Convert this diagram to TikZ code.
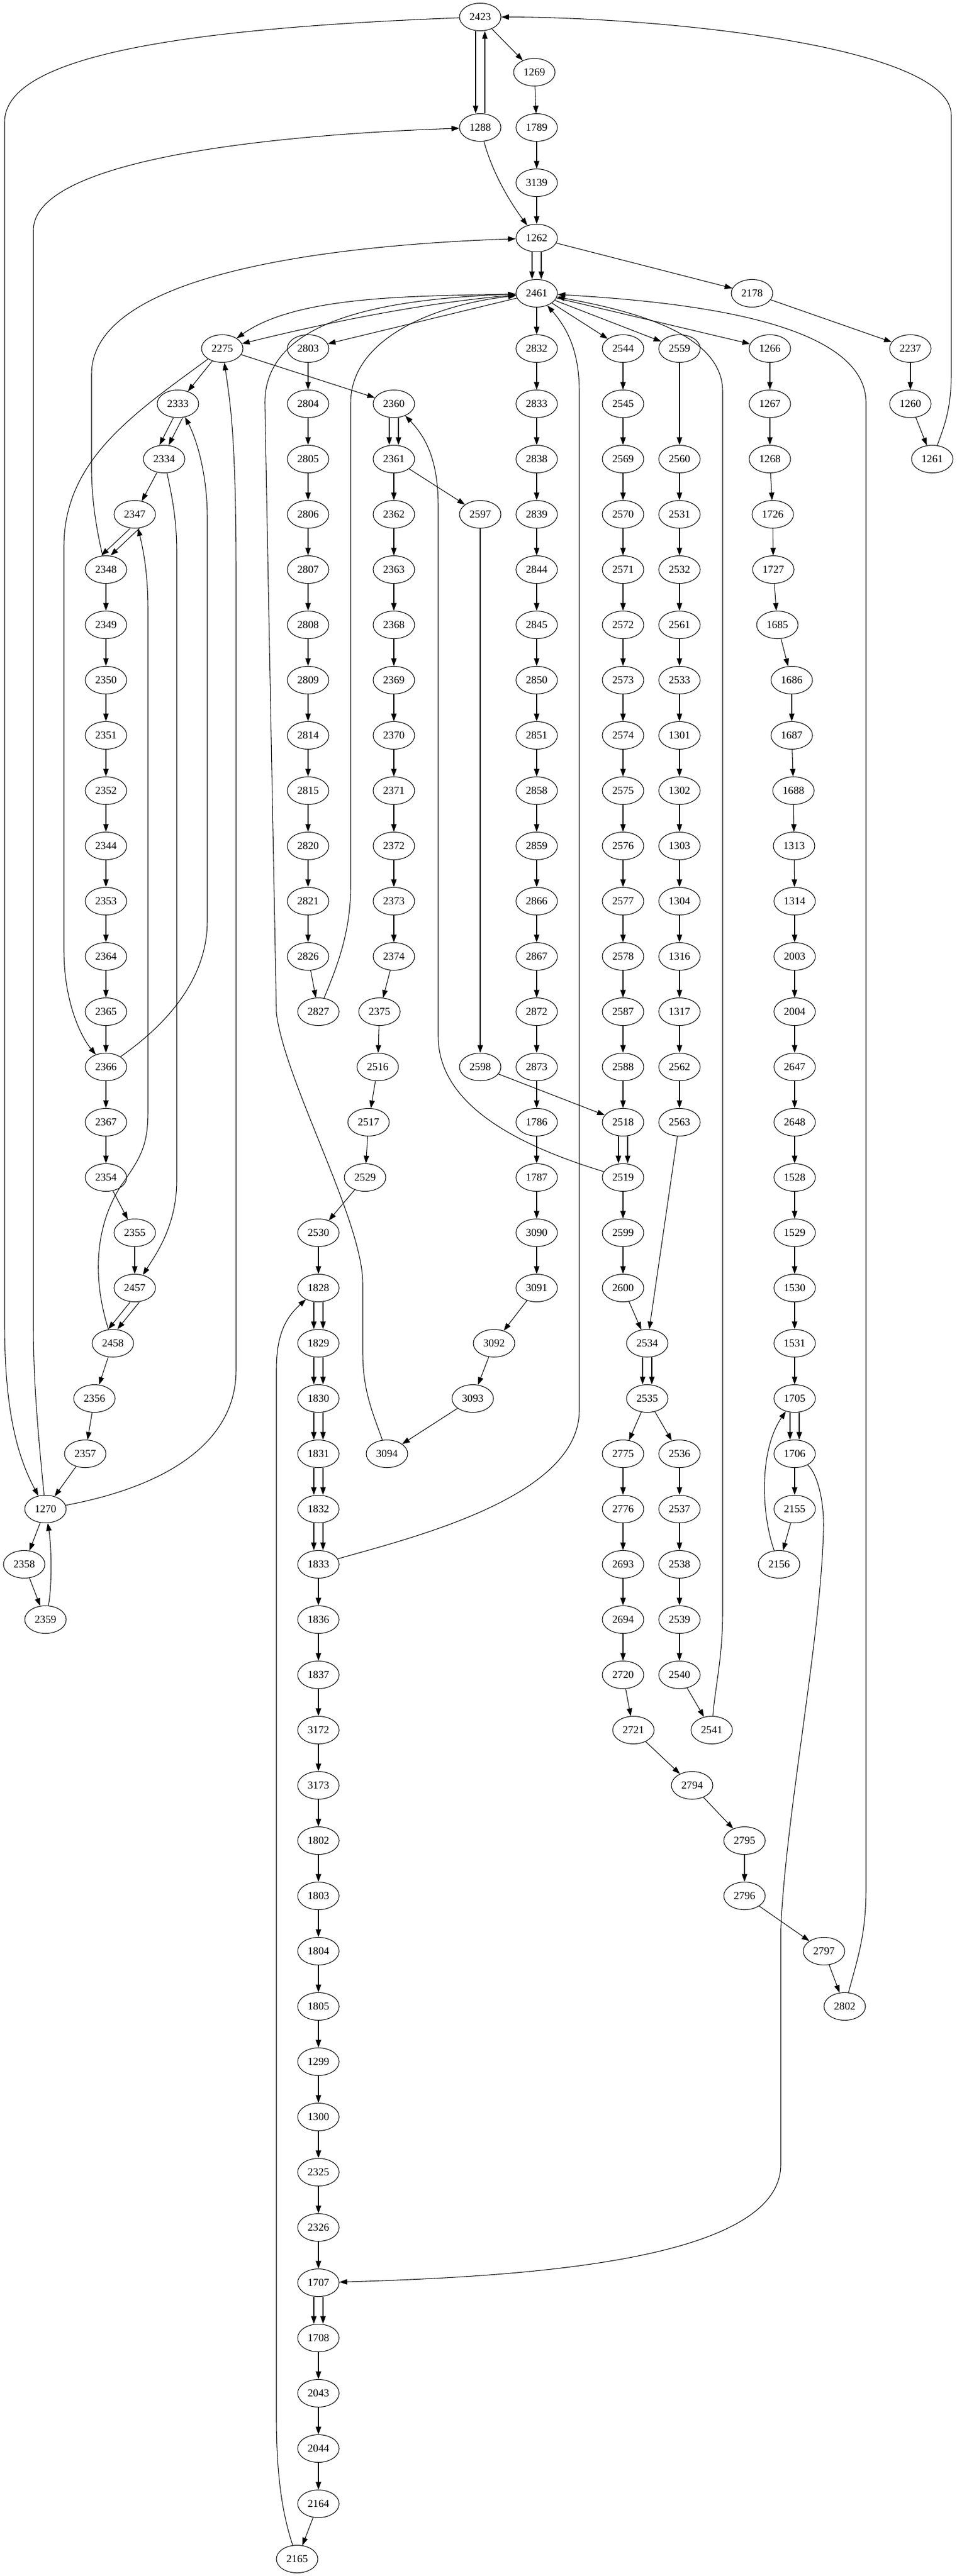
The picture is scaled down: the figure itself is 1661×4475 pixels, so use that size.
\documentclass[tikz,border=0pt]{standalone}
\usepackage{fontspec}
\setmainfont{Liberation Serif}
\usepackage{tikz}
\usetikzlibrary{arrows.meta,shapes.geometric}
\tikzstyle{mynode} = [draw=black, ellipse, line width=0.8pt,
    minimum width=54pt, minimum height=36pt, inner sep=0pt, font=\fontsize{14}{16}\selectfont]
\tikzstyle{myedge} = [draw=black, line width=0.8pt, -{Triangle[length=10pt,width=7pt]}]

\begin{document}
\begin{tikzpicture}[x=0.75pt, y=-0.75pt]
\useasboundingbox (0,0) rectangle (1661,4475);
\node[mynode] (n2423) at (834,29.5) {2423};
\node[mynode] (n1269) at (928,125.5) {1269};
\node[mynode] (n1288) at (834,221.5) {1288};
\node[mynode] (n1789) at (932,221.5) {1789};
\node[mynode] (n3139) at (932,317.5) {3139};
\node[mynode] (n1262) at (932,413.5) {1262};
\node[mynode] (n2461) at (932,509.5) {2461};
\node[mynode] (n2178) at (1306,509.5) {2178};
\node[mynode] (n2275) at (386,605.5) {2275};
\node[mynode] (n2803) at (535,605.5) {2803};
\node[mynode] (n2832) at (932,605.5) {2832};
\node[mynode] (n2544) at (1082,605.5) {2544};
\node[mynode] (n2559) at (1180,605.5) {2559};
\node[mynode] (n1266) at (1337,605.5) {1266};
\node[mynode] (n2237) at (1581,605.5) {2237};
\node[mynode] (n2333) at (309,701.5) {2333};
\node[mynode] (n2804) at (535,701.5) {2804};
\node[mynode] (n2360) at (684,701.5) {2360};
\node[mynode] (n2833) at (932,701.5) {2833};
\node[mynode] (n2545) at (1082,701.5) {2545};
\node[mynode] (n1267) at (1337,701.5) {1267};
\node[mynode] (n1260) at (1581,701.5) {1260};
\node[mynode] (n2334) at (285,797.5) {2334};
\node[mynode] (n2805) at (535,797.5) {2805};
\node[mynode] (n2361) at (684,797.5) {2361};
\node[mynode] (n2838) at (932,797.5) {2838};
\node[mynode] (n2569) at (1082,797.5) {2569};
\node[mynode] (n2560) at (1180,797.5) {2560};
\node[mynode] (n1268) at (1337,797.5) {1268};
\node[mynode] (n1261) at (1619,797.5) {1261};
\node[mynode] (n2347) at (234,893.5) {2347};
\node[mynode] (n2806) at (535,893.5) {2806};
\node[mynode] (n2362) at (684,893.5) {2362};
\node[mynode] (n2597) at (834,893.5) {2597};
\node[mynode] (n2839) at (932,893.5) {2839};
\node[mynode] (n2570) at (1082,893.5) {2570};
\node[mynode] (n2531) at (1180,893.5) {2531};
\node[mynode] (n1726) at (1342,893.5) {1726};
\node[mynode] (n2348) at (184,989.5) {2348};
\node[mynode] (n2807) at (535,989.5) {2807};
\node[mynode] (n2363) at (684,989.5) {2363};
\node[mynode] (n2844) at (932,989.5) {2844};
\node[mynode] (n2571) at (1082,989.5) {2571};
\node[mynode] (n2532) at (1180,989.5) {2532};
\node[mynode] (n1727) at (1343,989.5) {1727};
\node[mynode] (n2349) at (184,1085.5) {2349};
\node[mynode] (n2808) at (535,1085.5) {2808};
\node[mynode] (n2368) at (684,1085.5) {2368};
\node[mynode] (n2845) at (932,1085.5) {2845};
\node[mynode] (n2572) at (1082,1085.5) {2572};
\node[mynode] (n2561) at (1180,1085.5) {2561};
\node[mynode] (n1685) at (1350,1085.5) {1685};
\node[mynode] (n2350) at (184,1181.5) {2350};
\node[mynode] (n2809) at (535,1181.5) {2809};
\node[mynode] (n2369) at (684,1181.5) {2369};
\node[mynode] (n2850) at (932,1181.5) {2850};
\node[mynode] (n2573) at (1082,1181.5) {2573};
\node[mynode] (n2533) at (1180,1181.5) {2533};
\node[mynode] (n1686) at (1375,1181.5) {1686};
\node[mynode] (n2351) at (184,1277.5) {2351};
\node[mynode] (n2814) at (535,1277.5) {2814};
\node[mynode] (n2370) at (684,1277.5) {2370};
\node[mynode] (n2851) at (932,1277.5) {2851};
\node[mynode] (n2574) at (1082,1277.5) {2574};
\node[mynode] (n1301) at (1180,1277.5) {1301};
\node[mynode] (n1687) at (1375,1277.5) {1687};
\node[mynode] (n2352) at (184,1373.5) {2352};
\node[mynode] (n2815) at (535,1373.5) {2815};
\node[mynode] (n2371) at (684,1373.5) {2371};
\node[mynode] (n2858) at (932,1373.5) {2858};
\node[mynode] (n2575) at (1082,1373.5) {2575};
\node[mynode] (n1302) at (1180,1373.5) {1302};
\node[mynode] (n1688) at (1378,1373.5) {1688};
\node[mynode] (n2344) at (184,1469.5) {2344};
\node[mynode] (n2820) at (535,1469.5) {2820};
\node[mynode] (n2372) at (684,1469.5) {2372};
\node[mynode] (n2859) at (932,1469.5) {2859};
\node[mynode] (n2576) at (1082,1469.5) {2576};
\node[mynode] (n1303) at (1180,1469.5) {1303};
\node[mynode] (n1313) at (1379,1469.5) {1313};
\node[mynode] (n2353) at (184,1565.5) {2353};
\node[mynode] (n2821) at (535,1565.5) {2821};
\node[mynode] (n2373) at (684,1565.5) {2373};
\node[mynode] (n2866) at (932,1565.5) {2866};
\node[mynode] (n2577) at (1082,1565.5) {2577};
\node[mynode] (n1304) at (1180,1565.5) {1304};
\node[mynode] (n1314) at (1380,1565.5) {1314};
\node[mynode] (n2364) at (184,1661.5) {2364};
\node[mynode] (n2826) at (535,1661.5) {2826};
\node[mynode] (n2374) at (684,1661.5) {2374};
\node[mynode] (n2867) at (932,1661.5) {2867};
\node[mynode] (n2578) at (1082,1661.5) {2578};
\node[mynode] (n1316) at (1180,1661.5) {1316};
\node[mynode] (n2003) at (1380,1661.5) {2003};
\node[mynode] (n2365) at (184,1757.5) {2365};
\node[mynode] (n2827) at (553,1757.5) {2827};
\node[mynode] (n2375) at (659,1757.5) {2375};
\node[mynode] (n2872) at (932,1757.5) {2872};
\node[mynode] (n2587) at (1082,1757.5) {2587};
\node[mynode] (n1317) at (1180,1757.5) {1317};
\node[mynode] (n2004) at (1380,1757.5) {2004};
\node[mynode] (n2366) at (184,1853.5) {2366};
\node[mynode] (n2516) at (656,1853.5) {2516};
\node[mynode] (n2598) at (834,1853.5) {2598};
\node[mynode] (n2873) at (932,1853.5) {2873};
\node[mynode] (n2588) at (1082,1853.5) {2588};
\node[mynode] (n2562) at (1180,1853.5) {2562};
\node[mynode] (n2647) at (1380,1853.5) {2647};
\node[mynode] (n2367) at (184,1949.5) {2367};
\node[mynode] (n2517) at (640,1949.5) {2517};
\node[mynode] (n1786) at (932,1949.5) {1786};
\node[mynode] (n2518) at (1082,1949.5) {2518};
\node[mynode] (n2563) at (1180,1949.5) {2563};
\node[mynode] (n2648) at (1380,1949.5) {2648};
\node[mynode] (n2354) at (184,2045.5) {2354};
\node[mynode] (n2529) at (634,2045.5) {2529};
\node[mynode] (n1787) at (932,2045.5) {1787};
\node[mynode] (n2519) at (1082,2045.5) {2519};
\node[mynode] (n1528) at (1380,2045.5) {1528};
\node[mynode] (n2355) at (234,2141.5) {2355};
\node[mynode] (n2530) at (553,2141.5) {2530};
\node[mynode] (n3090) at (932,2141.5) {3090};
\node[mynode] (n2599) at (1082,2141.5) {2599};
\node[mynode] (n1529) at (1380,2141.5) {1529};
\node[mynode] (n2457) at (234,2237.5) {2457};
\node[mynode] (n1828) at (553,2237.5) {1828};
\node[mynode] (n3091) at (932,2237.5) {3091};
\node[mynode] (n2600) at (1082,2237.5) {2600};
\node[mynode] (n1530) at (1380,2237.5) {1530};
\node[mynode] (n2458) at (196,2333.5) {2458};
\node[mynode] (n1829) at (553,2333.5) {1829};
\node[mynode] (n3092) at (858,2333.5) {3092};
\node[mynode] (n2534) at (1124,2333.5) {2534};
\node[mynode] (n1531) at (1380,2333.5) {1531};
\node[mynode] (n2356) at (164,2429.5) {2356};
\node[mynode] (n1830) at (553,2429.5) {1830};
\node[mynode] (n3093) at (821,2429.5) {3093};
\node[mynode] (n2535) at (1124,2429.5) {2535};
\node[mynode] (n1705) at (1380,2429.5) {1705};
\node[mynode] (n2357) at (148,2525.5) {2357};
\node[mynode] (n1831) at (553,2525.5) {1831};
\node[mynode] (n3094) at (672,2525.5) {3094};
\node[mynode] (n2775) at (1082,2525.5) {2775};
\node[mynode] (n2536) at (1180,2525.5) {2536};
\node[mynode] (n1706) at (1380,2525.5) {1706};
\node[mynode] (n1270) at (79,2621.5) {1270};
\node[mynode] (n1832) at (553,2621.5) {1832};
\node[mynode] (n2776) at (1082,2621.5) {2776};
\node[mynode] (n2537) at (1180,2621.5) {2537};
\node[mynode] (n2155) at (1380,2621.5) {2155};
\node[mynode] (n2358) at (42,2717.5) {2358};
\node[mynode] (n1833) at (553,2717.5) {1833};
\node[mynode] (n2693) at (1082,2717.5) {2693};
\node[mynode] (n2538) at (1180,2717.5) {2538};
\node[mynode] (n2156) at (1353,2717.5) {2156};
\node[mynode] (n2359) at (79,2813.5) {2359};
\node[mynode] (n1836) at (553,2813.5) {1836};
\node[mynode] (n2694) at (1082,2813.5) {2694};
\node[mynode] (n2539) at (1180,2813.5) {2539};
\node[mynode] (n1837) at (553,2909.5) {1837};
\node[mynode] (n2720) at (1082,2909.5) {2720};
\node[mynode] (n2540) at (1180,2909.5) {2540};
\node[mynode] (n3172) at (553,3005.5) {3172};
\node[mynode] (n2721) at (1100,3005.5) {2721};
\node[mynode] (n2541) at (1236,3005.5) {2541};
\node[mynode] (n3173) at (553,3101.5) {3173};
\node[mynode] (n2794) at (1202,3101.5) {2794};
\node[mynode] (n1802) at (553,3197.5) {1802};
\node[mynode] (n2795) at (1293,3197.5) {2795};
\node[mynode] (n1803) at (553,3293.5) {1803};
\node[mynode] (n2796) at (1293,3293.5) {2796};
\node[mynode] (n1804) at (553,3389.5) {1804};
\node[mynode] (n2797) at (1431,3389.5) {2797};
\node[mynode] (n1805) at (553,3485.5) {1805};
\node[mynode] (n2802) at (1467,3485.5) {2802};
\node[mynode] (n1299) at (553,3581.5) {1299};
\node[mynode] (n1300) at (553,3677.5) {1300};
\node[mynode] (n2325) at (553,3773.5) {2325};
\node[mynode] (n2326) at (553,3869.5) {2326};
\node[mynode] (n1707) at (553,3965.5) {1707};
\node[mynode] (n1708) at (553,4061.5) {1708};
\node[mynode] (n2043) at (553,4157.5) {2043};
\node[mynode] (n2044) at (553,4253.5) {2044};
\node[mynode] (n2164) at (553,4349.5) {2164};
\node[mynode] (n2165) at (516,4445.5) {2165};

\draw[myedge] (n2423) -- (n1269); \draw[myedge] (n1269) -- (n1789); \draw[myedge] (n1789) -- (n3139); \draw[myedge] (n3139) -- (n1262);
\draw[myedge] (n1262) -- (n2178); \draw[myedge] (n2178) -- (n2237); \draw[myedge] (n2237) -- (n1260); \draw[myedge] (n1260) -- (n1261);
\draw[myedge] (n2461) -- (n2803); \draw[myedge] (n2461) -- (n2832); \draw[myedge] (n2461) -- (n2544); \draw[myedge] (n2461) -- (n2559); \draw[myedge] (n2461) -- (n1266);
\draw[myedge] (n2275) -- (n2333); \draw[myedge] (n2275) -- (n2360);
\draw[myedge] (n2803) -- (n2804); \draw[myedge] (n2804) -- (n2805); \draw[myedge] (n2805) -- (n2806); \draw[myedge] (n2806) -- (n2807);
\draw[myedge] (n2807) -- (n2808); \draw[myedge] (n2808) -- (n2809); \draw[myedge] (n2809) -- (n2814); \draw[myedge] (n2814) -- (n2815);
\draw[myedge] (n2815) -- (n2820); \draw[myedge] (n2820) -- (n2821); \draw[myedge] (n2821) -- (n2826); \draw[myedge] (n2826) -- (n2827);
\draw[myedge] (n2832) -- (n2833); \draw[myedge] (n2833) -- (n2838); \draw[myedge] (n2838) -- (n2839); \draw[myedge] (n2839) -- (n2844);
\draw[myedge] (n2844) -- (n2845); \draw[myedge] (n2845) -- (n2850); \draw[myedge] (n2850) -- (n2851); \draw[myedge] (n2851) -- (n2858);
\draw[myedge] (n2858) -- (n2859); \draw[myedge] (n2859) -- (n2866); \draw[myedge] (n2866) -- (n2867); \draw[myedge] (n2867) -- (n2872);
\draw[myedge] (n2872) -- (n2873); \draw[myedge] (n2873) -- (n1786); \draw[myedge] (n1786) -- (n1787); \draw[myedge] (n1787) -- (n3090);
\draw[myedge] (n3090) -- (n3091); \draw[myedge] (n3091) -- (n3092); \draw[myedge] (n3092) -- (n3093); \draw[myedge] (n3093) -- (n3094);
\draw[myedge] (n2544) -- (n2545); \draw[myedge] (n2545) -- (n2569); \draw[myedge] (n2569) -- (n2570); \draw[myedge] (n2570) -- (n2571);
\draw[myedge] (n2571) -- (n2572); \draw[myedge] (n2572) -- (n2573); \draw[myedge] (n2573) -- (n2574); \draw[myedge] (n2574) -- (n2575);
\draw[myedge] (n2575) -- (n2576); \draw[myedge] (n2576) -- (n2577); \draw[myedge] (n2577) -- (n2578); \draw[myedge] (n2578) -- (n2587);
\draw[myedge] (n2587) -- (n2588); \draw[myedge] (n2588) -- (n2518);
\draw[myedge] (n2559) -- (n2560); \draw[myedge] (n2560) -- (n2531); \draw[myedge] (n2531) -- (n2532); \draw[myedge] (n2532) -- (n2561);
\draw[myedge] (n2561) -- (n2533); \draw[myedge] (n2533) -- (n1301); \draw[myedge] (n1301) -- (n1302); \draw[myedge] (n1302) -- (n1303);
\draw[myedge] (n1303) -- (n1304); \draw[myedge] (n1304) -- (n1316); \draw[myedge] (n1316) -- (n1317); \draw[myedge] (n1317) -- (n2562);
\draw[myedge] (n2562) -- (n2563); \draw[myedge] (n2563) -- (n2534);
\draw[myedge] (n1266) -- (n1267); \draw[myedge] (n1267) -- (n1268); \draw[myedge] (n1268) -- (n1726); \draw[myedge] (n1726) -- (n1727);
\draw[myedge] (n1727) -- (n1685); \draw[myedge] (n1685) -- (n1686); \draw[myedge] (n1686) -- (n1687); \draw[myedge] (n1687) -- (n1688);
\draw[myedge] (n1688) -- (n1313); \draw[myedge] (n1313) -- (n1314); \draw[myedge] (n1314) -- (n2003); \draw[myedge] (n2003) -- (n2004);
\draw[myedge] (n2004) -- (n2647); \draw[myedge] (n2647) -- (n2648); \draw[myedge] (n2648) -- (n1528); \draw[myedge] (n1528) -- (n1529);
\draw[myedge] (n1529) -- (n1530); \draw[myedge] (n1530) -- (n1531); \draw[myedge] (n1531) -- (n1705);
\draw[myedge] (n1706) -- (n2155); \draw[myedge] (n2155) -- (n2156);
\draw[myedge] (n2334) -- (n2347);
\draw[myedge] (n2348) -- (n2349); \draw[myedge] (n2349) -- (n2350); \draw[myedge] (n2350) -- (n2351); \draw[myedge] (n2351) -- (n2352);
\draw[myedge] (n2352) -- (n2344); \draw[myedge] (n2344) -- (n2353); \draw[myedge] (n2353) -- (n2364); \draw[myedge] (n2364) -- (n2365);
\draw[myedge] (n2365) -- (n2366); \draw[myedge] (n2366) -- (n2367); \draw[myedge] (n2367) -- (n2354); \draw[myedge] (n2354) -- (n2355);
\draw[myedge] (n2355) -- (n2457);
\draw[myedge] (n2458) -- (n2356); \draw[myedge] (n2356) -- (n2357); \draw[myedge] (n2357) -- (n1270); \draw[myedge] (n1270) -- (n2358);
\draw[myedge] (n2358) -- (n2359);
\draw[myedge] (n2361) -- (n2362); \draw[myedge] (n2362) -- (n2363); \draw[myedge] (n2363) -- (n2368); \draw[myedge] (n2368) -- (n2369);
\draw[myedge] (n2369) -- (n2370); \draw[myedge] (n2370) -- (n2371); \draw[myedge] (n2371) -- (n2372); \draw[myedge] (n2372) -- (n2373);
\draw[myedge] (n2373) -- (n2374); \draw[myedge] (n2374) -- (n2375); \draw[myedge] (n2375) -- (n2516); \draw[myedge] (n2516) -- (n2517);
\draw[myedge] (n2517) -- (n2529); \draw[myedge] (n2529) -- (n2530); \draw[myedge] (n2530) -- (n1828);
\draw[myedge] (n2361) -- (n2597); \draw[myedge] (n2597) -- (n2598); \draw[myedge] (n2598) -- (n2518);
\draw[myedge] (n1833) -- (n1836); \draw[myedge] (n1836) -- (n1837); \draw[myedge] (n1837) -- (n3172); \draw[myedge] (n3172) -- (n3173);
\draw[myedge] (n3173) -- (n1802); \draw[myedge] (n1802) -- (n1803); \draw[myedge] (n1803) -- (n1804); \draw[myedge] (n1804) -- (n1805);
\draw[myedge] (n1805) -- (n1299); \draw[myedge] (n1299) -- (n1300); \draw[myedge] (n1300) -- (n2325); \draw[myedge] (n2325) -- (n2326);
\draw[myedge] (n2326) -- (n1707);
\draw[myedge] (n1708) -- (n2043); \draw[myedge] (n2043) -- (n2044); \draw[myedge] (n2044) -- (n2164); \draw[myedge] (n2164) -- (n2165);
\draw[myedge] (n2519) -- (n2599); \draw[myedge] (n2599) -- (n2600); \draw[myedge] (n2600) -- (n2534);
\draw[myedge] (n2535) -- (n2775); \draw[myedge] (n2775) -- (n2776); \draw[myedge] (n2776) -- (n2693); \draw[myedge] (n2693) -- (n2694);
\draw[myedge] (n2694) -- (n2720); \draw[myedge] (n2720) -- (n2721); \draw[myedge] (n2721) -- (n2794); \draw[myedge] (n2794) -- (n2795);
\draw[myedge] (n2795) -- (n2796); \draw[myedge] (n2796) -- (n2797); \draw[myedge] (n2797) -- (n2802);
\draw[myedge] (n2535) -- (n2536); \draw[myedge] (n2536) -- (n2537); \draw[myedge] (n2537) -- (n2538); \draw[myedge] (n2538) -- (n2539);
\draw[myedge] (n2539) -- (n2540); \draw[myedge] (n2540) -- (n2541);

% paired edges
\draw[myedge] ([xshift=-6pt]n2423.south) -- ([xshift=-6pt]n1288.north);
\draw[myedge] ([xshift=6pt]n1288.north) -- ([xshift=6pt]n2423.south);
\draw[myedge] ([xshift=-6pt]n1262.south) -- ([xshift=-6pt]n2461.north);
\draw[myedge] ([xshift=6pt]n1262.south) -- ([xshift=6pt]n2461.north);
\draw[myedge] ([xshift=-6pt]n2333.south) -- ([xshift=-6pt]n2334.north);
\draw[myedge] ([xshift=6pt]n2333.south) -- ([xshift=6pt]n2334.north);
\draw[myedge] ([xshift=-6pt]n2347.south) -- ([xshift=-6pt]n2348.north);
\draw[myedge] ([xshift=6pt]n2347.south) -- ([xshift=6pt]n2348.north);
\draw[myedge] ([xshift=-6pt]n2457.south) -- ([xshift=-6pt]n2458.north);
\draw[myedge] ([xshift=6pt]n2457.south) -- ([xshift=6pt]n2458.north);
\draw[myedge] ([xshift=-6pt]n2360.south) -- ([xshift=-6pt]n2361.north);
\draw[myedge] ([xshift=6pt]n2360.south) -- ([xshift=6pt]n2361.north);
\draw[myedge] ([xshift=-6pt]n2518.south) -- ([xshift=-6pt]n2519.north);
\draw[myedge] ([xshift=6pt]n2518.south) -- ([xshift=6pt]n2519.north);
\draw[myedge] ([xshift=-6pt]n2534.south) -- ([xshift=-6pt]n2535.north);
\draw[myedge] ([xshift=6pt]n2534.south) -- ([xshift=6pt]n2535.north);
\draw[myedge] ([xshift=-6pt]n1705.south) -- ([xshift=-6pt]n1706.north);
\draw[myedge] ([xshift=6pt]n1705.south) -- ([xshift=6pt]n1706.north);
\draw[myedge] ([xshift=-6pt]n1828.south) -- ([xshift=-6pt]n1829.north);
\draw[myedge] ([xshift=6pt]n1828.south) -- ([xshift=6pt]n1829.north);
\draw[myedge] ([xshift=-6pt]n1829.south) -- ([xshift=-6pt]n1830.north);
\draw[myedge] ([xshift=6pt]n1829.south) -- ([xshift=6pt]n1830.north);
\draw[myedge] ([xshift=-6pt]n1830.south) -- ([xshift=-6pt]n1831.north);
\draw[myedge] ([xshift=6pt]n1830.south) -- ([xshift=6pt]n1831.north);
\draw[myedge] ([xshift=-6pt]n1831.south) -- ([xshift=-6pt]n1832.north);
\draw[myedge] ([xshift=6pt]n1831.south) -- ([xshift=6pt]n1832.north);
\draw[myedge] ([xshift=-6pt]n1832.south) -- ([xshift=-6pt]n1833.north);
\draw[myedge] ([xshift=6pt]n1832.south) -- ([xshift=6pt]n1833.north);
\draw[myedge] ([xshift=-6pt]n1707.south) -- ([xshift=-6pt]n1708.north);
\draw[myedge] ([xshift=6pt]n1707.south) -- ([xshift=6pt]n1708.north);

% long back edges
\draw[myedge] (n2423) .. controls (300,50) and (8,100) .. (8,212) -- (8,2300) .. controls (8,2450) and (30,2530) .. (n1270);
\draw[myedge] (n1261) .. controls (1640,740) and (1652,710) .. (1652,650) -- (1652,200) .. controls (1652,80) and (1150,30) .. (n2423);
\draw[myedge] (n1270) .. controls (62,2450) and (58,2380) .. (58,2300) -- (58,400) .. controls (58,280) and (450,235) .. (n1288);
\draw[myedge] (n1288) .. controls (855,300) and (885,350) .. (n1262);
\draw[myedge] (n2348) .. controls (170,930) and (160,880) .. (159,820) -- (159,650) .. controls (159,470) and (600,425) .. (n1262);
\draw[myedge] (n2461) .. controls (740,515) and (520,510) .. (n2275);
\draw[myedge] (n2461) .. controls (740,525) and (570,560) .. (n2275);
\draw[myedge] (n3094) .. controls (650,2460) and (630,2420) .. (630,2350) -- (630,2230) .. controls (630,2120) and (495,1880) .. (480,1760) -- (460,700) .. controls (460,560) and (650,520) .. (n2461);
\draw[myedge] (n2827) .. controls (585,1680) and (609,1620) .. (609,1540) -- (609,700) .. controls (609,590) and (750,530) .. (n2461);
\draw[myedge] (n1833) .. controls (720,2670) and (1006,2600) .. (1006,2450) -- (1006,680) .. controls (1006,610) and (985,570) .. (n2461);
\draw[myedge] (n2541) .. controls (1242,2930) and (1255,2880) .. (1255,2800) -- (1255,680) .. controls (1255,580) and (1100,540) .. (n2461);
\draw[myedge] (n2802) .. controls (1490,3400) and (1504,3360) .. (1504,3280) -- (1504,700) .. controls (1504,560) and (1200,525) .. (n2461);
\draw[myedge] (n1706) .. controls (1420,2560) and (1432,2610) .. (1430,2660) .. controls (1425,2850) and (1365,3150) .. (1356,3350) -- (1356,3760) .. controls (1356,3930) and (900,3955) .. (n1707);
\draw[myedge] (n2156) .. controls (1322,2630) and (1318,2520) .. (n1705);
\draw[myedge] (n2519) .. controls (900,1990) and (761,1920) .. (761,1800) -- (761,880) .. controls (761,800) and (740,760) .. (n2360);
\draw[myedge] (n2366) .. controls (260,1800) and (360,1720) .. (360,1600) -- (360,900) .. controls (360,820) and (340,760) .. (n2333);
\draw[myedge] (n2275) .. controls (230,720) and (111,800) .. (111,950) -- (111,1650) .. controls (111,1740) and (140,1800) .. (n2366);
\draw[myedge] (n1270) .. controls (300,2580) and (410,2500) .. (410,2380) -- (410,1000) .. controls (410,760) and (400,700) .. (n2275);
\draw[myedge] (n2334) .. controls (298,860) and (307,900) .. (307,960) -- (307,2050) .. controls (307,2130) and (270,2180) .. (n2457);
\draw[myedge] (n2458) .. controls (160,2220) and (165,2130) .. (210,2060) .. controls (245,2010) and (257,1990) .. (257,1930) -- (257,1060) .. controls (257,1000) and (250,960) .. (n2347);
\draw[myedge] (n2165) .. controls (495,4380) and (480,4320) .. (480,4200) -- (480,2380) .. controls (480,2320) and (495,2290) .. (n1828);
\draw[myedge] (n2359) .. controls (90,2760) and (90,2690) .. (n1270);
\end{tikzpicture}
\end{document}
